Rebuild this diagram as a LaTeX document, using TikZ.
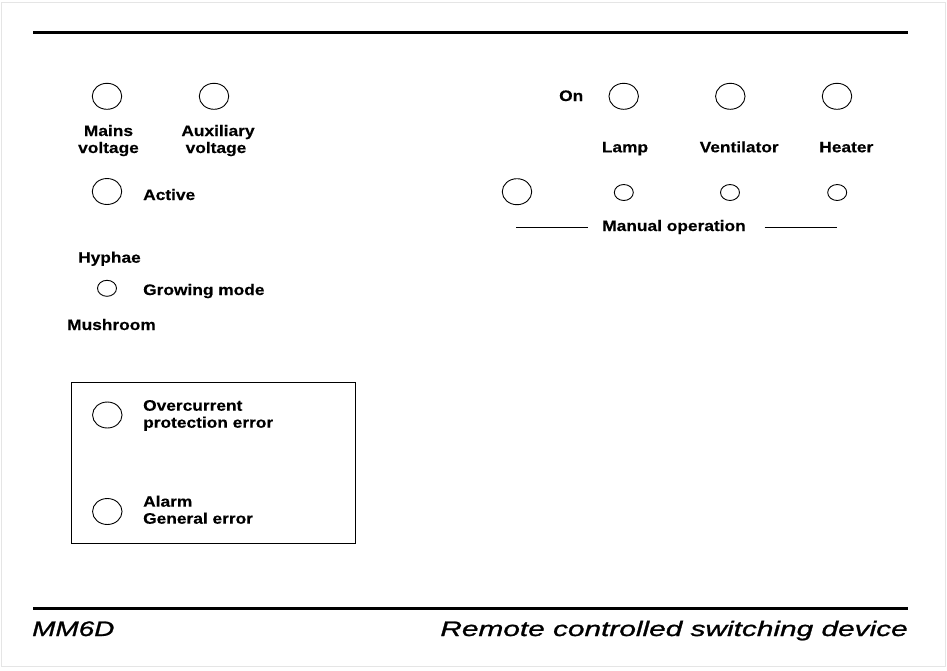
\documentclass[tikz,border=0pt]{standalone}
\usepackage{fontspec}
\setmainfont{Liberation Sans}
\newfontfamily\lblfont[FakeStretch=1.14,FakeBold=0.3]{Liberation Sans}
\newfontfamily\titlefont[FakeStretch=1.42,FakeBold=1.2]{Liberation Sans}
\newfontfamily\typefont[FakeStretch=1.33,FakeBold=1.2]{Liberation Sans}
\usetikzlibrary{shapes.geometric}
\begin{document}
\begin{tikzpicture}[x=1pt,y=-1pt,
  lbl/.style={font=\lblfont\bfseries\fontsize{15.2}{17}\selectfont, inner sep=0pt, anchor=base west},
  lblc/.style={lbl, anchor=base},
  led/.style={ellipse, draw, line width=0.9pt, minimum width=29.5pt, minimum height=26pt, inner sep=0pt},
  ledsmall/.style={ellipse, draw, line width=0.9pt, minimum width=19pt, minimum height=16pt, inner sep=0pt},
  rulebar/.style={line width=3.2pt},
  thinline/.style={line width=0.9pt},
  frame/.style={draw=black!10, line width=1pt}]
\useasboundingbox (0,0) rectangle (947,670);
\draw[frame] (1,2) rectangle (945.5,666);
% rules
\coordinate (tl) at (33,32.3);
\coordinate (tr) at (907.5,32.3);
\coordinate (bl) at (33,608.8);
\coordinate (br) at (907.5,608.8);
\draw[rulebar] (tl) -- (tr);
\draw[rulebar] (bl) -- (br);
% footer texts
\node[font=\typefont\itshape\fontsize{21}{24}\selectfont, inner sep=0pt, anchor=base west] (type) at (32,636) {MM6D};
\node[font=\titlefont\itshape\fontsize{21}{24}\selectfont, inner sep=0pt, anchor=base east] (title) at (908,636) {Remote controlled switching device};
% left column
\node[led] (mains) at (107,96.3) {};
\node[led] (aux) at (214,96.3) {};
\node[lblc] (mainsA) at (108.5,136) {Mains};
\node[lblc] (mainsB) at (108.5,153) {voltage};
\node[lblc] (auxA) at (218,136) {Auxiliary};
\node[lblc] (auxB) at (216,153) {voltage};
\node[led] (active) at (107,191.5) {};
\node[lbl] (activeL) at (143,200) {Active};
\node[lbl] (hyphae) at (78,262.7) {Hyphae};
\node[ledsmall] (grow) at (107,288.3) {};
\node[lbl] (growL) at (143,295) {Growing mode};
\node[lbl] (mush) at (67,330) {Mushroom};
% error box
\node[draw, thinline, minimum width=284.5pt, minimum height=161pt, inner sep=0pt] (errbox) at (213.3,462.8) {};
\node[led] (overc) at (107.3,415) {};
\node[lbl] (overcA) at (143,410.7) {Overcurrent};
\node[lbl] (overcB) at (143,427.7) {protection error};
\node[led] (alarm) at (107.3,511.5) {};
\node[lbl] (alarmA) at (143,506.7) {Alarm};
\node[lbl] (alarmB) at (143,523.7) {General error};
% right group
\node[lbl] (on) at (559,101) {On};
\node[led] (lampOn) at (623.7,96.3) {};
\node[led] (ventOn) at (730.3,96.3) {};
\node[led] (heatOn) at (837,96.3) {};
\node[lblc] (lampL) at (625,152.3) {Lamp};
\node[lblc] (ventL) at (739.2,152.3) {Ventilator};
\node[lblc] (heatL) at (846.3,152.3) {Heater};
\node[led] (manual) at (517,191.7) {};
\node[ledsmall] (lampSw) at (623.8,192.5) {};
\node[ledsmall] (ventSw) at (730,192.5) {};
\node[ledsmall] (heatSw) at (837.2,192.5) {};
\node[lblc] (manualL) at (674,231) {Manual operation};
\coordinate (ml1) at (516,227.7);
\coordinate (ml2) at (588,227.7);
\coordinate (mr1) at (764.5,227.7);
\coordinate (mr2) at (837,227.7);
\draw[thinline] (ml1) -- (ml2);
\draw[thinline] (mr1) -- (mr2);
\end{tikzpicture}
\end{document}
